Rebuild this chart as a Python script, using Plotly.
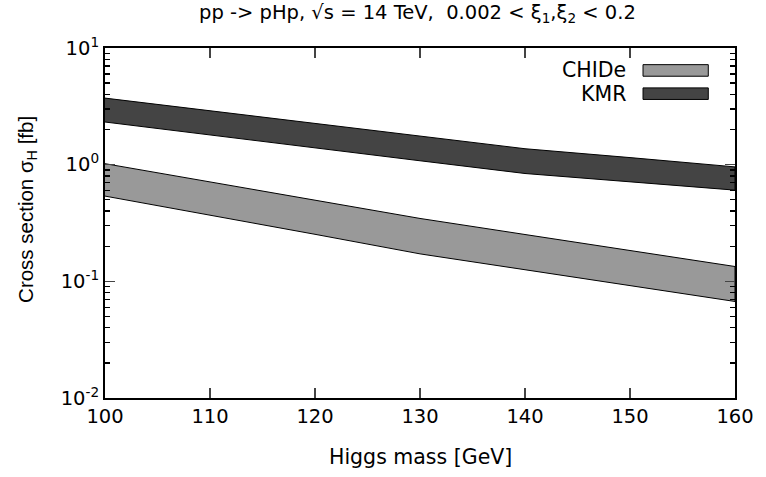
import plotly.graph_objects as go

mass = [100, 110, 120, 130, 140, 150, 160]
kmr_upper = [3.72, 2.89, 2.27, 1.74, 1.37, 1.15, 0.957]
kmr_lower = [2.32, 1.80, 1.39, 1.08, 0.84, 0.713, 0.605]
chide_upper = [1.02, 0.714, 0.498, 0.346, 0.252, 0.184, 0.134]
chide_lower = [0.538, 0.369, 0.253, 0.172, 0.126, 0.0919, 0.0672]

y_major = [0.01, 0.1, 1, 10]
y_major_text = ["10<sup>-2</sup>", "10<sup>-1</sup>", "10<sup>0</sup>", "10<sup>1</sup>"]
y_minor = [m * 10 ** e for e in (-2, -1, 0) for m in range(2, 10)]
x_ticks = [100, 110, 120, 130, 140, 150, 160]

series = [
    ("CHIDe", chide_upper, chide_lower, "#999999"),
    ("KMR", kmr_upper, kmr_lower, "#444444"),
]

WIDE = "DejaVu Sans, Liberation Sans, sans-serif"
NARROW = "Liberation Sans, Arial, sans-serif"
fig = go.Figure()
for name, up, lo, col in series:
    fig.add_trace(go.Scatter(
        x=mass + mass[::-1], y=up + lo[::-1], fill="toself", fillcolor=col,
        mode="lines", line=dict(color="black", width=1), name=name, showlegend=False,
        hoverinfo="skip",
    ))

W, H = 766, 477
L, R, T, B = 105, 24, 47.5, 78.5
pw, ph = W - L - R, H - T - B
def px(x):
    return (x - L) / pw
def py(y):
    return 1 - (y - T) / ph

fig.update_layout(
    width=W, height=H, margin=dict(l=L, r=R, t=T, b=B), autosize=False,
    plot_bgcolor="white", paper_bgcolor="white",
    font=dict(family=WIDE, size=19, color="black"),
    xaxis=dict(range=[100, 160], tickvals=x_ticks, ticks="inside", ticklen=10, tickwidth=1.3,
               mirror="allticks", showline=True, linecolor="black", linewidth=2, showgrid=False,
               zeroline=False, tickfont=dict(size=19.5)),
    yaxis=dict(type="log", range=[-2, 1], tickvals=y_major, ticktext=y_major_text, ticks="inside",
               ticklen=10, tickwidth=1.3, mirror="allticks", showline=True, linecolor="black", linewidth=2,
               showgrid=False, zeroline=False,
               minor=dict(tickvals=y_minor, ticks="inside", ticklen=5, tickwidth=1.3, tickcolor="black", showgrid=False),
               tickfont=dict(size=19.5)),
)

# title
fig.add_annotation(xref="paper", yref="paper", x=px(421), y=py(13),
                   text="pp -> pHp, \u221as = 14 TeV, \u00a00.002 < \u03be<sub>1</sub>,\u03be<sub>2</sub> < 0.2",
                   showarrow=False, xanchor="center", yanchor="middle", font=dict(size=19.5))
# x-axis title
fig.add_annotation(xref="paper", yref="paper", x=px(424), y=py(458), text="Higgs mass [GeV]",
                   showarrow=False, xanchor="center", yanchor="middle", font=dict(size=20.5))
# y-axis title (vertical text)
fig.add_annotation(xref="paper", yref="paper", x=px(26), y=py(209), textangle=-90,
                   text="Cross section \u03c3<sub>H</sub> [fb]", showarrow=False,
                   xanchor="center", yanchor="middle", font=dict(family=NARROW, size=20.5))

# legend (gnuplot style: label text left of key box)
for i, (name, up, lo, col) in enumerate(series):
    yc = 70 + 23.3 * i
    fig.add_shape(type="rect", xref="paper", yref="paper", x0=px(649), x1=px(715),
                  y0=py(yc - 5.8), y1=py(yc + 5.8), fillcolor=col, line=dict(color="black", width=1))
    fig.add_annotation(xref="paper", yref="paper", x=px(634), y=py(yc), text=name, showarrow=False,
                       xanchor="right", yanchor="middle", font=dict(size=20.5))

fig.write_html("out.html", config={"displayModeBar": False, "staticPlot": True, "responsive": False},
               post_script="document.body.style.margin='0px';document.body.style.overflow='hidden';")
